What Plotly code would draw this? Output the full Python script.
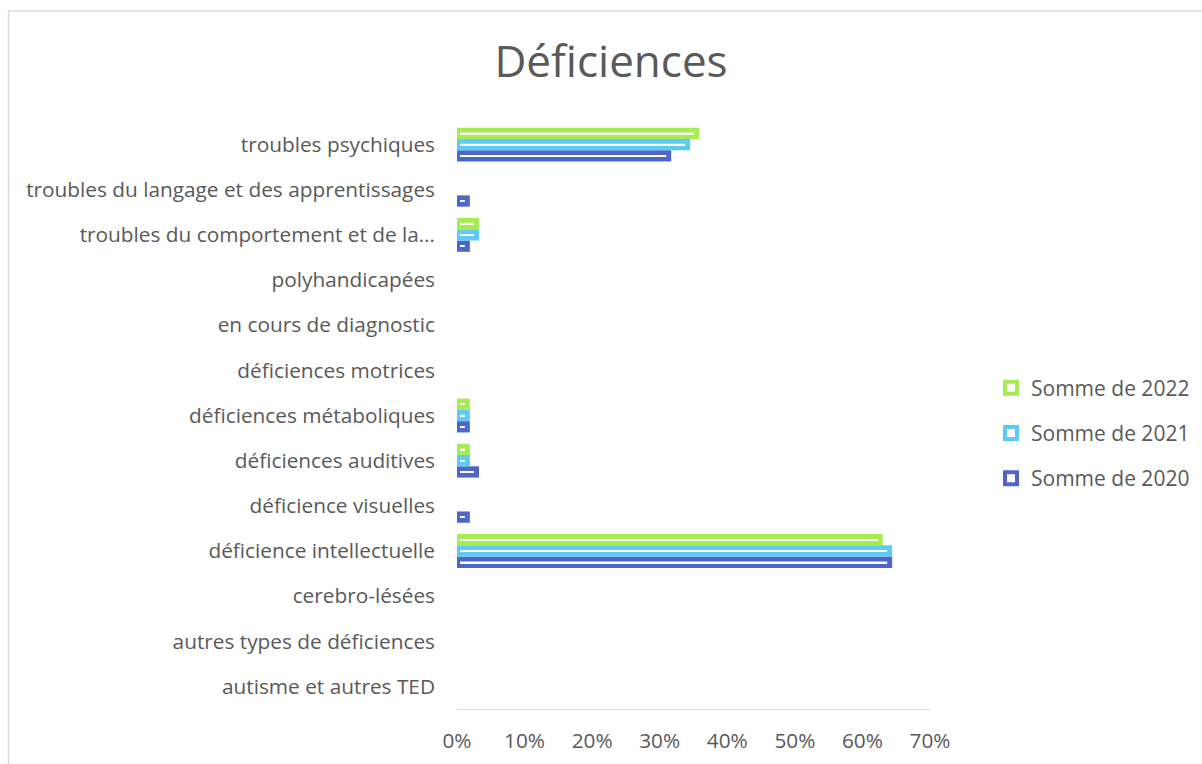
import plotly.graph_objects as go

categories = [
    "autisme et autres TED",
    "autres types de déficiences",
    "cerebro-lésées",
    "déficience intellectuelle",
    "déficience visuelles",
    "déficiences auditives",
    "déficiences métaboliques",
    "déficiences motrices",
    "en cours de diagnostic",
    "polyhandicapées",
    "troubles du comportement et de la…",
    "troubles du langage et des apprentissages",
    "troubles psychiques",
]

series_names = ["Somme de 2020", "Somme de 2021", "Somme de 2022"]
values_2020 = [0, 0, 0, 0.644, 0.019, 0.0325, 0.019, 0, 0, 0, 0.019, 0.019, 0.317]
values_2021 = [0, 0, 0, 0.644, 0, 0.019, 0.019, 0, 0, 0, 0.0325, 0, 0.345]
values_2022 = [0, 0, 0, 0.630, 0, 0.019, 0.019, 0, 0, 0, 0.0325, 0, 0.358]
x_ticks = [0, 0.1, 0.2, 0.3, 0.4, 0.5, 0.6, 0.7]

colors = ["#4E66C9", "#5DCBF3", "#A6EB50"]
all_values = [values_2020, values_2021, values_2022]

TEXT = "#595959"
FONT = "Open Sans"
LBL = 20.8
BAR_W = 0.25
STRIPE_W = 0.035
PX = 0.7 / 473.0  # one pixel in data units

fig = go.Figure()
for k, (name, vals, col) in enumerate(zip(series_names, all_values, colors)):
    off = -0.375 + k * BAR_W
    fig.add_trace(go.Bar(
        y=categories, x=vals, orientation="h", name=name,
        marker=dict(color=col, line=dict(width=0)),
        offset=off, width=BAR_W, showlegend=False, hoverinfo="x+y",
    ))
    # thin white inner stripe
    stripe_base = [3 * PX if v > 0 else None for v in vals]
    stripe_len = [(v - 8 * PX) if v > 0 else None for v in vals]
    fig.add_trace(go.Bar(
        y=categories, x=stripe_len, base=stripe_base, orientation="h",
        marker=dict(color="white", line=dict(width=0)),
        offset=off + BAR_W / 2 - STRIPE_W / 2, width=STRIPE_W,
        showlegend=False, hoverinfo="skip",
    ))

# legend entries
for k in [2, 1, 0]:
    fig.add_trace(go.Scatter(
        x=[None], y=[None], mode="markers", name=series_names[k],
        legendgroup=series_names[k],
        marker=dict(symbol="square-open", size=12, color=colors[k],
                    line=dict(width=4, color=colors[k])),
    ))

fig.update_layout(
    width=1202, height=764,
    barmode="overlay",
    paper_bgcolor="white", plot_bgcolor="white",
    margin=dict(l=457, r=272, t=122, b=55, pad=0, autoexpand=False),
    font=dict(family=FONT, color=TEXT, size=LBL),
    title=dict(text="Déficiences", x=611 / 1202, xanchor="center",
               y=1 - 62 / 764, yanchor="middle", xref="container", yref="container",
               font=dict(family=FONT, size=44, color=TEXT)),
    xaxis=dict(range=[0, 0.7], tickvals=x_ticks, tickformat=".0%",
               showgrid=False, zeroline=False, showline=True, linecolor="#D9D9D9",
               linewidth=1, ticks="", ticklabelstandoff=13, automargin=False,
               tickfont=dict(size=LBL, color=TEXT), fixedrange=True),
    yaxis=dict(categoryorder="array", categoryarray=categories,
               range=[-0.5, len(categories) - 0.5], automargin=False,
               showgrid=False, zeroline=False, showline=False, ticks="",
               ticklabelstandoff=21, tickfont=dict(size=LBL, color=TEXT), fixedrange=True),
    legend=dict(x=(991 - 457) / 473, xanchor="left", y=(709 - 433) / 587, yanchor="middle",
                font=dict(size=21, color=TEXT), tracegroupgap=15,
                bgcolor="rgba(0,0,0,0)"),
    shapes=[dict(type="rect", xref="paper", yref="paper",
                 x0=(8.5 - 457) / 473, x1=(1215 - 457) / 473,
                 y0=(709 - 775) / 587, y1=(709 - 11) / 587,
                 line=dict(color="#D9D9D9", width=1.5), fillcolor="rgba(0,0,0,0)",
                 layer="below")],
)

fig.write_html("out.html", config={"displayModeBar": False},
               post_script="document.body.style.margin='0';")
